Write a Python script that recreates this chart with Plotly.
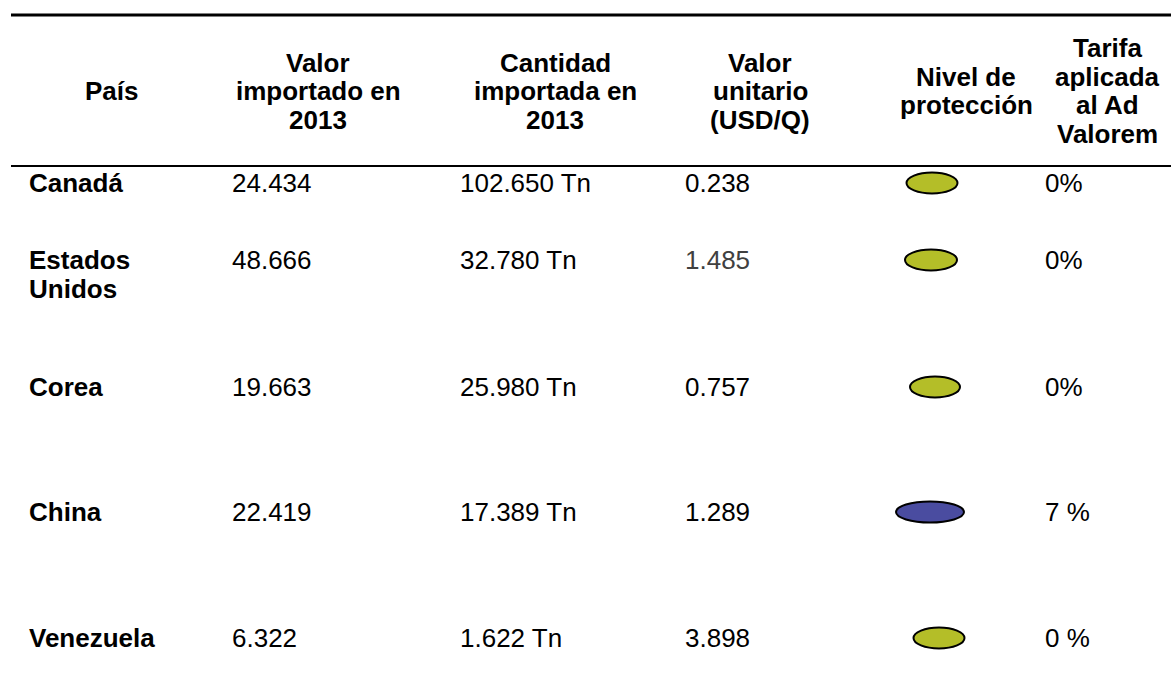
import plotly.graph_objects as go

# ---------------- data ----------------
headers = ["País", "Valor\nimportado en\n2013", "Cantidad\nimportada en\n2013",
           "Valor\nunitario\n(USD/Q)", "Nivel de\nprotección",
           "Tarifa\naplicada\nal Ad\nValorem"]
paises = ["Canadá", "Estados\nUnidos", "Corea", "China", "Venezuela"]
valor_importado = ["24.434", "48.666", "19.663", "22.419", "6.322"]
cantidad_importada = ["102.650 Tn", "32.780 Tn", "25.980 Tn", "17.389 Tn", "1.622 Tn"]
valor_unitario = ["0.238", "1.485", "0.757", "1.289", "3.898"]
nivel_proteccion = ["verde", "verde", "verde", "azul", "verde"]
tarifa = ["0%", "0%", "0%", "7 %", "0 %"]

# ---------------- layout / style ----------------
W, H = 1171, 695
FONT = "Liberation Sans, Arial, sans-serif"
FS = 26
LINE_H = 28.5
BODY_LINE_H = 29
header_cx = [112, 318, 555, 760, 966, 1107]
header_cy = 91
col_left = [27, 230, 458, 683, None, 1043]
row_y = [183, 260, 387, 512, 638]
ell_cx = [932, 931, 935, 930, 939]
ell_w = [51, 52, 50, 68, 51]
ell_h = 21
colors = {"verde": "#B4BE28", "azul": "#4A4CA0"}
text_colors = {(1, 3): "#404040"}

fig = go.Figure()
fig.add_trace(go.Scatter(x=[0, W], y=[0, H], mode="markers",
                         marker=dict(opacity=0), hoverinfo="skip", showlegend=False))

ann = []
# headers
for cx, h in zip(header_cx, headers):
    lines = h.split("\n")
    n = len(lines)
    for i, ln in enumerate(lines):
        y = header_cy + (i - (n - 1) / 2) * LINE_H
        ann.append(dict(x=cx, y=y, text="<b>%s</b>" % ln, xanchor="center", yanchor="middle",
                        showarrow=False, font=dict(family=FONT, size=FS, color="black")))

columns = [paises, valor_importado, cantidad_importada, valor_unitario, None, tarifa]
for c, col in enumerate(columns):
    if col is None:
        continue
    for r, val in enumerate(col):
        for i, ln in enumerate(val.split("\n")):
            t = "<b>%s</b>" % ln if c == 0 else ln
            ann.append(dict(x=col_left[c], y=row_y[r] + i * BODY_LINE_H, text=t,
                            xanchor="left", yanchor="middle", showarrow=False,
                            font=dict(family=FONT, size=FS,
                                      color=text_colors.get((r, c), "black"))))

shapes = [
    dict(type="line", x0=11, x1=W, y0=15, y1=15, xref="x", yref="y",
         line=dict(color="black", width=3)),
    dict(type="line", x0=11, x1=W, y0=166, y1=166, xref="x", yref="y",
         line=dict(color="black", width=2)),
]
for r, lvl in enumerate(nivel_proteccion):
    shapes.append(dict(type="circle", xref="x", yref="y",
                       x0=ell_cx[r] - ell_w[r] / 2, x1=ell_cx[r] + ell_w[r] / 2,
                       y0=row_y[r] - ell_h / 2, y1=row_y[r] + ell_h / 2,
                       fillcolor=colors[lvl], line=dict(color="black", width=2)))

fig.update_layout(
    width=W, height=H, margin=dict(l=0, r=0, t=0, b=0),
    paper_bgcolor="white", plot_bgcolor="white",
    xaxis=dict(range=[0, W], visible=False, fixedrange=True),
    yaxis=dict(range=[H, 0], visible=False, fixedrange=True),
    annotations=ann, shapes=shapes, showlegend=False,
)
fig.write_html("out.html", config={"displayModeBar": False},
               post_script="document.body.style.margin='0';document.body.style.overflow='hidden';")
